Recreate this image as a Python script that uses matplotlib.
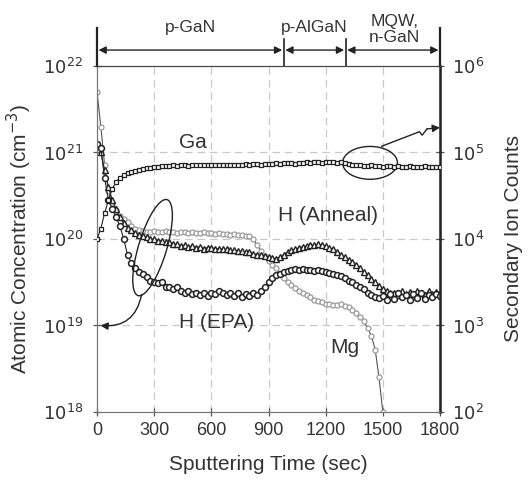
import matplotlib
matplotlib.use("Agg")
import matplotlib.pyplot as plt
import numpy as np
from matplotlib.patches import Ellipse

plt.rcParams["font.family"] = ["Liberation Sans", "DejaVu Sans"]

# common time grid (sec), 20 s steps
time_s = np.arange(0, 1801, 20)

# Ga secondary ion counts (log10)
ga_log = [
    4.00, 4.12, 4.30, 4.45, 4.58, 4.66, 4.71, 4.74, 4.76, 4.78,
    4.79, 4.80, 4.81, 4.82, 4.82, 4.83, 4.83, 4.84, 4.84, 4.84,
    4.85, 4.84, 4.85, 4.85, 4.84, 4.85, 4.85, 4.85, 4.86, 4.85,
    4.85, 4.86, 4.85, 4.86, 4.86, 4.86, 4.85, 4.86, 4.86, 4.87,
    4.86, 4.87, 4.87, 4.86, 4.87, 4.87, 4.87, 4.88, 4.87, 4.88,
    4.88, 4.88, 4.87, 4.88, 4.88, 4.89, 4.88, 4.89, 4.89, 4.88,
    4.89, 4.89, 4.89, 4.88, 4.89, 4.88, 4.87, 4.86, 4.85, 4.85,
    4.84, 4.84, 4.85, 4.84, 4.84, 4.83, 4.84, 4.84, 4.83, 4.84,
    4.83, 4.83, 4.84, 4.83, 4.83, 4.83, 4.84, 4.83, 4.83, 4.83,
    4.83,
]

# H concentration, EPA sample (log10 cm^-3)
h_epa_log = [
    21.10, 21.05, 20.70, 20.45, 20.35, 20.25, 20.15, 20.00, 19.82, 19.72,
    19.66, 19.62, 19.60, 19.56, 19.52, 19.50, 19.49, 19.50, 19.44, 19.45,
    19.42, 19.45, 19.40, 19.38, 19.40, 19.36, 19.38, 19.35, 19.37, 19.34,
    19.38, 19.36, 19.40, 19.37, 19.35, 19.38, 19.34, 19.37, 19.33, 19.36,
    19.34, 19.37, 19.35, 19.40, 19.45, 19.50, 19.55, 19.58, 19.60, 19.62,
    19.63, 19.64, 19.65, 19.64, 19.65, 19.64, 19.64, 19.63, 19.64, 19.63,
    19.62, 19.61, 19.60, 19.58, 19.57, 19.55, 19.52, 19.50, 19.47, 19.45,
    19.42, 19.38, 19.35, 19.33, 19.32, 19.34, 19.30, 19.36, 19.31, 19.37,
    19.33, 19.35, 19.30, 19.36, 19.32, 19.37, 19.31, 19.35, 19.33, 19.36,
    19.34,
]

# H concentration, annealed sample (log10 cm^-3)
h_anneal_log = [
    21.10, 21.00, 20.80, 20.60, 20.45, 20.35, 20.25, 20.18, 20.13, 20.10,
    20.07, 20.05, 20.04, 20.02, 20.00, 20.00, 19.98, 19.98, 19.96, 19.96,
    19.94, 19.94, 19.92, 19.93, 19.91, 19.92, 19.90, 19.91, 19.89, 19.90,
    19.90, 19.89, 19.89, 19.88, 19.88, 19.87, 19.87, 19.86, 19.86, 19.85,
    19.85, 19.83, 19.82, 19.81, 19.80, 19.79, 19.78, 19.77, 19.79, 19.82,
    19.85, 19.87, 19.88, 19.90, 19.91, 19.92, 19.93, 19.93, 19.94, 19.93,
    19.92, 19.90, 19.88, 19.85, 19.82, 19.79, 19.76, 19.73, 19.70, 19.67,
    19.62, 19.58, 19.54, 19.50, 19.46, 19.42, 19.40, 19.37, 19.38, 19.35,
    19.40, 19.36, 19.39, 19.34, 19.40, 19.37, 19.35, 19.40, 19.36, 19.39,
    19.37,
]

# Mg concentration (log10 cm^-3), ends at 1500 s
mg_log = [
    21.70, 21.30, 20.85, 20.55, 20.42, 20.33, 20.27, 20.23, 20.20, 20.15,
    20.12, 20.10, 20.09, 20.08, 20.08, 20.09, 20.08, 20.08, 20.09, 20.08,
    20.08, 20.07, 20.08, 20.08, 20.07, 20.08, 20.07, 20.07, 20.08, 20.07,
    20.07, 20.06, 20.07, 20.06, 20.06, 20.05, 20.06, 20.05, 20.05, 20.04,
    20.04, 20.00, 19.93, 19.86, 19.80, 19.75, 19.70, 19.66, 19.60, 19.55,
    19.50, 19.47, 19.43, 19.40, 19.37, 19.35, 19.33, 19.30, 19.28, 19.27,
    19.25, 19.25, 19.24, 19.24, 19.25, 19.23, 19.21, 19.18, 19.14, 19.10,
    19.05, 18.97, 18.88, 18.72, 18.40, 18.00,
]

layers = ["p-GaN", "p-AlGaN", "MQW,\nn-GaN"]
layer_edges = [0, 980, 1305, 1800]

TXT = "#333333"

fig = plt.figure(figsize=(5.31, 4.95), dpi=100)
ax = fig.add_axes([0.1827, 0.1677, 0.6459, 0.6990])
ax2 = ax.twinx()

ax.set_xlim(0, 1800)
ax.set_yscale("log")
ax.set_ylim(1e18, 1e22)
ax2.set_yscale("log")
ax2.set_ylim(1e2, 1e6)

# grid
for x in [300, 600, 900, 1200, 1500]:
    ax.axvline(x, color="#c8c8c8", lw=0.9, ls=(0, (6, 4)), zorder=0)
for y in [1e19, 1e20, 1e21]:
    ax.axhline(y, color="#c8c8c8", lw=0.9, ls=(0, (6, 4)), zorder=0)

t_mg = time_s[: len(mg_log)]
ax.plot(t_mg, 10 ** np.array(mg_log), color="#555555", lw=0.8, marker="o",
        ms=3.6, mfc="white", mec="#9a9a9a", mew=0.9, zorder=3)
ax.plot(time_s, 10 ** np.array(h_anneal_log), color="#222222", lw=0.8, marker="^",
        ms=4.0, mfc="white", mec="#222222", mew=1.0, zorder=4)
ax.plot(time_s, 10 ** np.array(h_epa_log), color="#222222", lw=0.8, marker="o",
        ms=4.2, mfc="white", mec="#222222", mew=1.1, zorder=5)
ax2.plot(time_s, 10 ** np.array(ga_log), color="#222222", lw=0.8, marker="s",
         ms=3.4, mfc="white", mec="#222222", mew=0.9, zorder=5)

# ticks
ax.set_xticks([0, 300, 600, 900, 1200, 1500, 1800])
ax.set_yticks([1e18, 1e19, 1e20, 1e21, 1e22])
ax.set_yticklabels([r"$10^{18}$", r"$10^{19}$", r"$10^{20}$", r"$10^{21}$", r"$10^{22}$"])
ax.minorticks_off()
ax2.set_yticks([1e2, 1e3, 1e4, 1e5, 1e6])
ax2.set_yticklabels([r"$10^{2}$", r"$10^{3}$", r"$10^{4}$", r"$10^{5}$", r"$10^{6}$"])
ax2.minorticks_off()
ax.tick_params(axis="both", direction="inout", length=6, width=0.9,
               colors="#555555", labelcolor=TXT, labelsize=13, pad=4)
ax.tick_params(axis="y", pad=7)
ax2.tick_params(axis="y", direction="inout", length=6, width=0.9,
                colors="#555555", labelcolor=TXT, labelsize=13, pad=6)

for sp in ["left", "bottom"]:
    ax.spines[sp].set_color("#777777")
    ax2.spines[sp].set_color("#777777")
ax.spines["top"].set_color("#444444")
ax2.spines["top"].set_color("#444444")
ax2.spines["right"].set_color("#222222")
ax2.spines["right"].set_linewidth(1.8)

ax.set_xlabel("Sputtering Time (sec)", fontsize=15, color=TXT, labelpad=12)
ax.set_ylabel("Atomic Concentration (cm$^{-3}$)", fontsize=15, color=TXT, labelpad=6)
ax2.set_ylabel("Secondary Ion Counts", fontsize=15, color=TXT, labelpad=14)

# series labels
ax.text(505, 10 ** 21.12, "Ga", fontsize=15, color=TXT, ha="center", va="center")
ax.text(1210, 10 ** 20.27, "H (Anneal)", fontsize=15, color=TXT, ha="center", va="center")
ax.text(630, 10 ** 19.04, "H (EPA)", fontsize=15, color=TXT, ha="center", va="center")
ax.text(1300, 10 ** 18.74, "Mg", fontsize=15, color=TXT, ha="center", va="center")

# layer header
trans = ax.get_xaxis_transform()
for x in [0, 1800]:
    ax.plot([x, x], [1.0, 1.11], transform=trans, color="#222222", lw=1.6, clip_on=False)
for x in layer_edges[1:-1]:
    ax.plot([x, x], [1.0, 1.078], transform=trans, color="#222222", lw=1.2, clip_on=False)
for i, name in enumerate(layers):
    x0, x1 = layer_edges[i], layer_edges[i + 1]
    ax.annotate("", xy=(x0 + 8, 1.046), xytext=(x1 - 8, 1.046), xycoords=trans,
                textcoords=trans,
                arrowprops=dict(arrowstyle="<|-|>", color="#222222", lw=1.0,
                                mutation_scale=11, shrinkA=0, shrinkB=0))
ax.text(490, 1.11, layers[0], transform=trans, fontsize=12.5, color=TXT, ha="center", va="center")
ax.text(1140, 1.11, layers[1], transform=trans, fontsize=12.5, color=TXT, ha="center", va="center")
ax.text(1560, 1.105, layers[2], transform=trans, fontsize=12.5, color=TXT, ha="center",
        va="center", linespacing=1.1)

# ellipses with pointer arrows
ax.add_patch(Ellipse((0.796, 0.72), 0.16, 0.095, transform=ax.transAxes, fill=False,
                     ec="#222222", lw=1.0, zorder=6))
ax.plot([0.83, 0.94, 0.948, 0.962], [0.768, 0.81, 0.80, 0.818], transform=ax.transAxes,
        color="#222222", lw=1.0, zorder=6)
ax.annotate("", xy=(1.0, 0.822), xytext=(0.962, 0.818), xycoords=ax.transAxes,
            arrowprops=dict(arrowstyle="-|>", color="#222222", lw=1.0,
                            mutation_scale=11, shrinkA=0, shrinkB=0))

ax.add_patch(Ellipse((0.162, 0.475), 0.29, 0.082, angle=73, transform=ax.transAxes,
                     fill=False, ec="#222222", lw=1.0, zorder=6))
ax.annotate("", xy=(0.01, 0.25), xytext=(0.13, 0.34), xycoords=ax.transAxes,
            arrowprops=dict(arrowstyle="-|>", color="#222222", lw=1.0,
                            mutation_scale=11, shrinkA=0, shrinkB=0,
                            connectionstyle="arc3,rad=-0.45"))

fig.savefig("out.png", dpi=100)
